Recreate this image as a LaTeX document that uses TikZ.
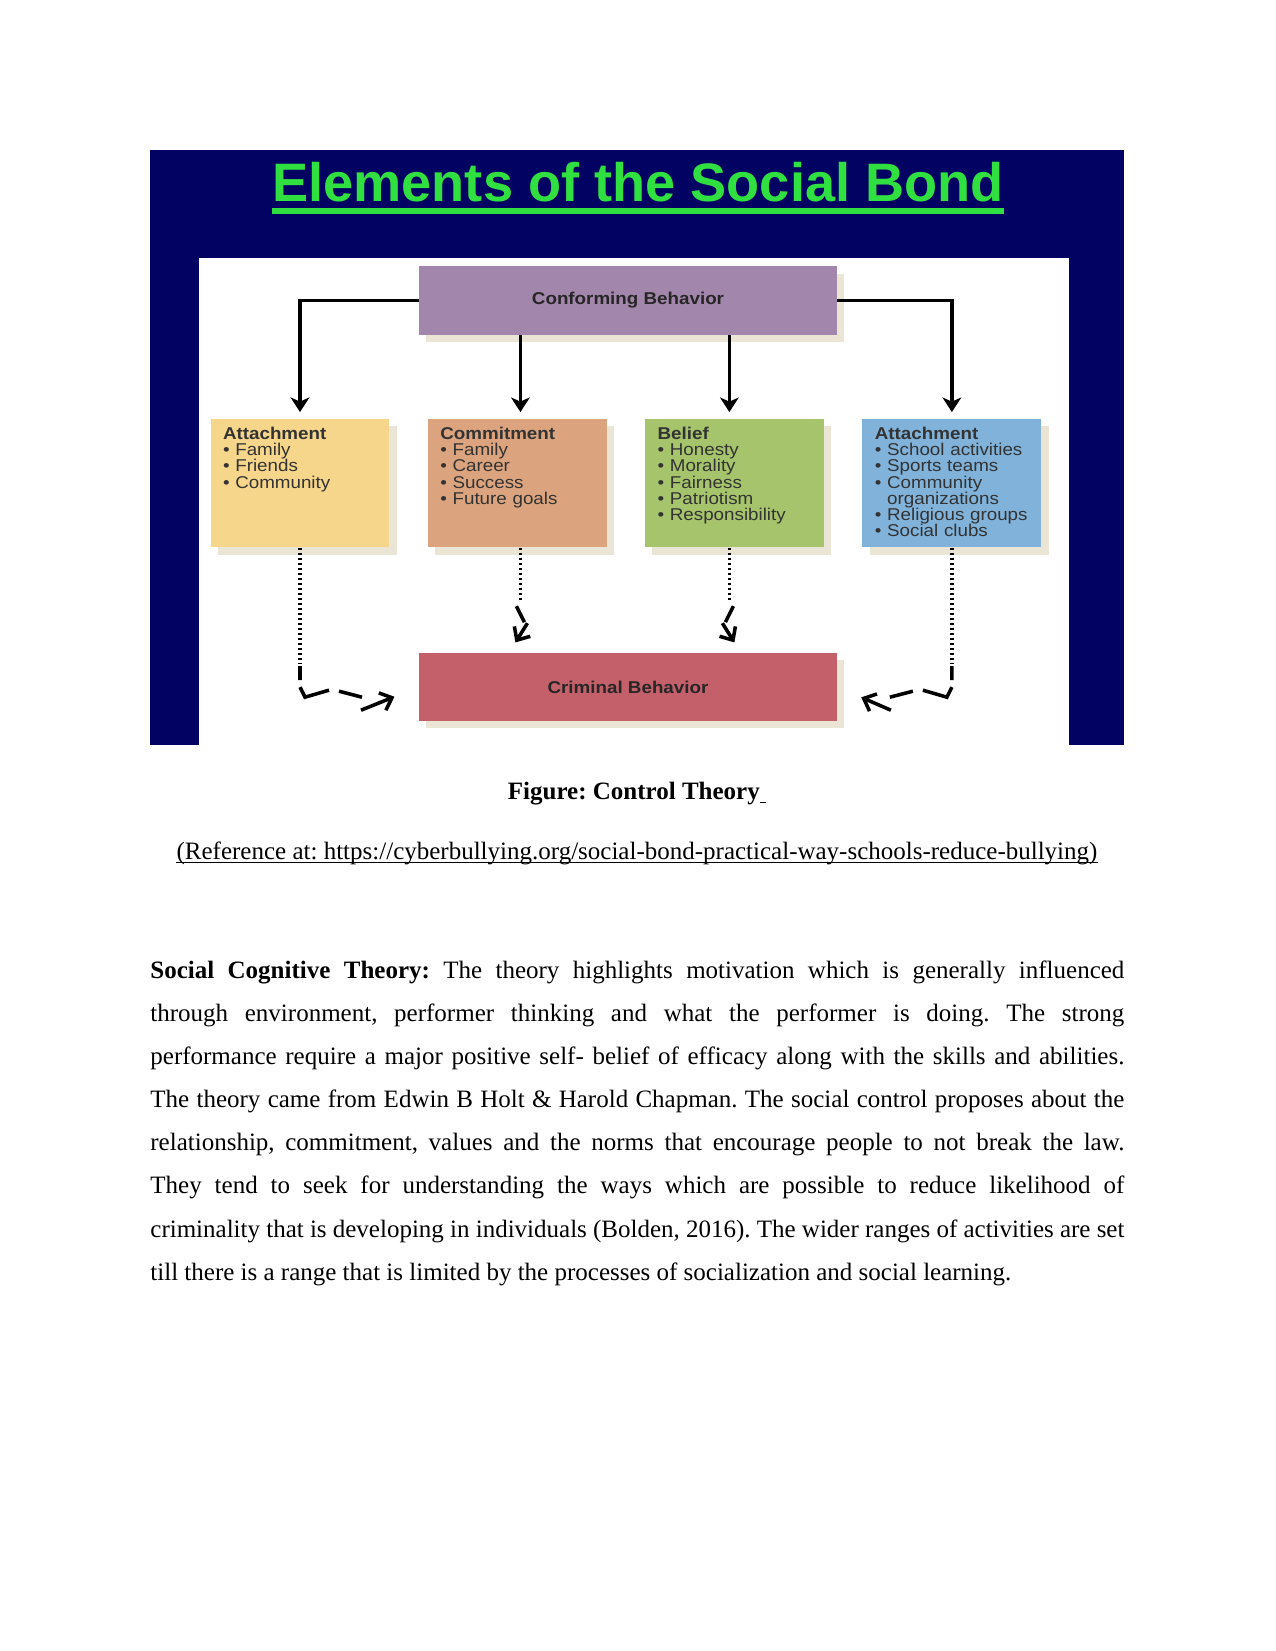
\documentclass[tikz,border=0pt]{standalone}
\usepackage{fontspec}
\setmainfont{Liberation Serif}
\newfontfamily\bondfont[FakeStretch=1.1]{Liberation Sans}
\newfontfamily\headfont{Liberation Sans}
\usetikzlibrary{positioning, arrows.meta, calc, shadows}
\definecolor{bondnavy}{HTML}{020262}
\definecolor{bondgreen}{HTML}{30E040}
\definecolor{confpurple}{HTML}{A386AB}
\definecolor{attyellow}{HTML}{F6D68B}
\definecolor{comorange}{HTML}{DCA47E}
\definecolor{belgreen}{HTML}{A5C46B}
\definecolor{attblue}{HTML}{80B2DA}
\definecolor{crimred}{HTML}{C4606A}
\definecolor{shadowtan}{HTML}{E2DAC2}
\frenchspacing

\begin{document}
\begin{tikzpicture}[
    x=0.48pt, y=-0.48pt,
    every node/.style={inner sep=0pt},
    wide/.style={fill=#1, minimum width=200.6pt, minimum height=32.8pt,
                 font=\bondfont\bfseries\fontsize{8.2pt}{9pt}\selectfont, text=black!85,
                 drop shadow={shadow xshift=3.5pt, shadow yshift=-3.5pt, fill=shadowtan, opacity=0.7}},
    bond/.style={fill=#1, minimum width=85.9pt, inner xsep=6pt, inner ysep=4pt,
                 text width=73.9pt, text height=6pt, text depth=47.7pt, align=left,
                 font=\bondfont\fontsize{8.2pt}{7.75pt}\selectfont, text=black!80,
                 drop shadow={shadow xshift=3.5pt, shadow yshift=-3.5pt, fill=shadowtan, opacity=0.7}},
    conn/.style={line width=1.8pt, -{Stealth[length=7pt, width=9pt, inset=2pt]}, shorten >=3pt},
    dotline/.style={line width=1.7pt, dash pattern=on 1.2pt off 1.2pt},
    brk/.style={line width=1.7pt, -{Straight Barb[length=5pt, width=9pt]}},
  ]
  \useasboundingbox (0,0) rectangle (1275,1651);

  % slide panel
  \fill[bondnavy] (150,150) rectangle (1124,745);
  \fill[white] (199,258) rectangle (1069,745);

  \node[font=\headfont\bfseries\fontsize{26pt}{30pt}\selectfont, text=bondgreen, anchor=base] (title)
    at (638,202) {Elements of the Social Bond};
  \draw[bondgreen, line width=2.6pt] ([yshift=-4.3pt]title.base west) -- ([yshift=-4.3pt]title.base east);

  \node[wide=confpurple] (conf) at (628,300.6) {Conforming Behavior};

  \node[bond=attyellow] (att) at (300,483)
    {\textbf{Attachment}\\ \textbullet\ Family\\ \textbullet\ Friends\\ \textbullet\ Community};
  \node[bond=comorange, right=18pt of att] (com)
    {\textbf{Commitment}\\ \textbullet\ Family\\ \textbullet\ Career\\ \textbullet\ Success\\ \textbullet\ Future goals};
  \node[bond=belgreen, right=18pt of com] (bel)
    {\textbf{Belief}\\ \textbullet\ Honesty\\ \textbullet\ Morality\\ \textbullet\ Fairness\\ \textbullet\ Patriotism\\ \textbullet\ Responsibility};
  \node[bond=attblue, right=18pt of bel] (att2)
    {\textbf{Attachment}\\ \textbullet\ School activities\\ \textbullet\ Sports teams\\ \textbullet\ Community\\
     \phantom{\textbullet\ }organizations\\ \textbullet\ Religious groups\\ \textbullet\ Social clubs};

  \node[wide=crimred] (crim) at (628,687) {Criminal Behavior};

  % inner lines sit a little towards the middle
  \coordinate (comtop) at ([xshift=1.5pt]com.north);
  \coordinate (beltop) at ([xshift=-2.5pt]bel.north);
  \coordinate (combot) at ([xshift=1.5pt]com.south);
  \coordinate (belbot) at ([xshift=-2.5pt]bel.south);

  \draw[conn] (conf.west) -| (att.north);
  \draw[conn] (conf.south -| comtop) -- (comtop);
  \draw[conn] (conf.south -| beltop) -- (beltop);
  \draw[conn] (conf.east) -| (att2.north);

  \coordinate (attbend) at ($(att.south)+(0,115.5)$);
  \coordinate (att2bend) at ($(att2.south)+(0,115.5)$);
  \coordinate (combend) at ($(combot)+(0,52.5)$);
  \coordinate (belbend) at ($(belbot)+(0,52.5)$);
  \coordinate (comin) at ($(combot |- crim.north)+(-5,-10)$);
  \coordinate (belin) at ($(belbot |- crim.north)+(5,-10)$);

  \draw[dotline] (att.south) -- (attbend);
  \draw[dotline] (combot) -- (combend);
  \draw[dotline] (belbot) -- (belbend);
  \draw[dotline] (att2.south) -- (att2bend);

  \draw[brk, shorten >=12.5pt] (attbend) ++(0,3) -- ++(0,14) ++(0,7) -- ++(5,10) -- ++(24,-7)
    ++(10,1) -- ++(23,6) ++(-1,13) -- (crim.west);
  \draw[brk, shorten >=12.5pt] (att2bend) ++(0,3) -- ++(0,14) ++(0,7) -- ++(-5,10) -- ++(-24,-7)
    ++(-10,1) -- ++(-23,6) ++(1,13) -- (crim.east);
  \draw[brk] (combend) ++(-4,6) -- ++(8,16) ++(3,1) -- (comin);
  \draw[brk] (belbend) ++(4,6) -- ++(-8,16) ++(-3,1) -- (belin);

  % caption and text below the figure
  \node[anchor=base, font=\bfseries\fontsize{12pt}{14pt}\selectfont] (figcap) at (637,799)
    {Figure: Control Theory\underline{\ }};
  \node[anchor=base, font=\fontsize{12pt}{14pt}\selectfont] (figref) at (637,859)
    {(Reference at: https://cyberbullying.org/social-bond-practical-way-schools-reduce-bullying)};
  \draw[line width=0.6pt] ([yshift=-1.8pt]figref.base west) -- ([yshift=-1.8pt]figref.base east);

  \node[anchor=base west, text width=467.5pt, align=justify,
        font=\fontsize{12pt}{20.72pt}\selectfont] (para) at (150,978)
    {\hyphenpenalty=10000\tolerance=10000
     \textbf{Social Cognitive Theory:} The theory highlights motivation which is generally influenced\linebreak
     through environment, performer thinking and what the performer is doing. The strong\linebreak
     performance require a major positive self- belief of efficacy along with the skills and abilities.\linebreak
     The theory came from Edwin B Holt \& Harold Chapman. The social control proposes about the\linebreak
     relationship, commitment, values and the norms that encourage people to not break the law.\linebreak
     They tend to seek for understanding the ways which are possible to reduce likelihood of\linebreak
     criminality that is developing in individuals (Bolden, 2016). The wider ranges of activities are set\linebreak
     till there is a range that is limited by the processes of socialization and social learning.};
\end{tikzpicture}
\end{document}
